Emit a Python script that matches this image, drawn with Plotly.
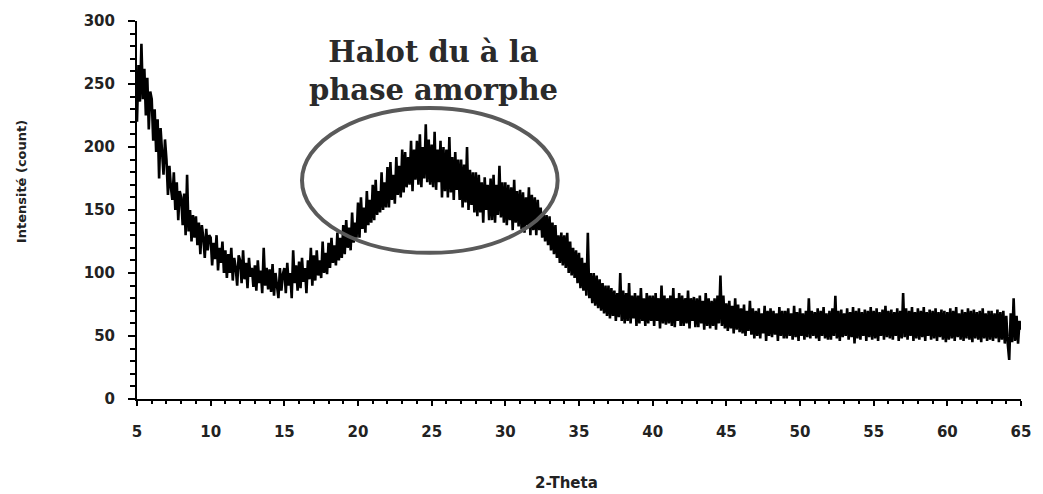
import numpy as np
import plotly.graph_objects as go

# 2-Theta sampling grid (degrees), step 0.1 from 5 to 65
two_theta = np.round(np.linspace(5, 65, 601), 1)

# Intensity (count), one row per degree
intensity = [
    220, 265, 236, 282, 238, 262, 225, 255, 214, 244,
    238, 205, 230, 196, 222, 175, 215, 200, 178, 206,
    190, 162, 185, 168, 158, 180, 150, 172, 142, 165,
    160, 138, 163, 130, 178, 133, 150, 125, 146, 128,
    145, 122, 140, 115, 138, 128, 112, 135, 118, 130,
    128, 106, 124, 111, 130, 102, 120, 108, 125, 100,
    118, 96, 115, 100, 120, 94, 112, 104, 90, 114,
    110, 92, 118, 95, 108, 88, 112, 97, 104, 89,
    106, 86, 110, 92, 102, 84, 120, 90, 104, 87,
    103, 85, 107, 82, 100, 90, 80, 104, 86, 99,
    104, 84, 108, 90, 100, 80, 118, 92, 106, 86,
    109, 88, 112, 93, 104, 84, 110, 95, 120, 90,
    114, 94, 118, 98, 110, 96, 125, 100, 116, 99,
    124, 104, 128, 108, 122, 106, 132, 110, 128, 112,
    138, 115, 142, 120, 136, 118, 148, 124, 140, 128,
    156, 128, 160, 135, 152, 132, 165, 138, 158, 140,
    170, 142, 174, 146, 165, 148, 180, 150, 172, 152,
    184, 152, 188, 158, 178, 155, 192, 162, 185, 160,
    198, 164, 196, 168, 192, 170, 205, 165, 198, 174,
    205, 170, 210, 168, 200, 175, 218, 172, 206, 170,
    202, 168, 212, 166, 198, 172, 205, 160, 200, 165,
    198, 160, 208, 164, 192, 158, 196, 166, 190, 158,
    190, 152, 186, 156, 200, 150, 182, 154, 180, 148,
    180, 145, 178, 148, 172, 140, 176, 150, 170, 142,
    175, 142, 178, 140, 170, 146, 185, 144, 172, 140,
    172, 138, 170, 142, 168, 134, 174, 140, 165, 137,
    166, 135, 164, 132, 160, 138, 168, 130, 162, 134,
    160, 130, 158, 134, 152, 128, 148, 125, 146, 122,
    145, 118, 140, 115, 138, 112, 130, 108, 132, 106,
    130, 104, 132, 100, 125, 98, 120, 96, 118, 92,
    116, 88, 112, 86, 108, 82, 132, 80, 100, 76,
    100, 74, 98, 72, 95, 70, 92, 68, 90, 66,
    90, 64, 88, 66, 86, 62, 84, 65, 100, 62,
    86, 60, 84, 62, 92, 60, 82, 64, 84, 58,
    82, 60, 88, 62, 80, 58, 84, 60, 82, 62,
    82, 58, 84, 62, 80, 56, 90, 60, 82, 59,
    80, 60, 82, 58, 88, 57, 80, 62, 84, 58,
    82, 58, 80, 60, 86, 56, 80, 62, 81, 57,
    80, 57, 82, 60, 78, 55, 84, 58, 80, 56,
    78, 58, 80, 55, 82, 60, 98, 58, 82, 56,
    76, 54, 78, 56, 74, 52, 80, 55, 75, 53,
    72, 52, 75, 50, 70, 54, 78, 51, 72, 48,
    70, 50, 72, 48, 68, 52, 74, 46, 70, 50,
    72, 49, 70, 51, 68, 46, 73, 50, 70, 48,
    70, 48, 72, 50, 68, 47, 74, 49, 69, 46,
    72, 50, 68, 47, 70, 49, 80, 48, 70, 50,
    69, 48, 72, 46, 70, 50, 73, 48, 68, 47,
    70, 47, 72, 50, 82, 48, 70, 46, 71, 49,
    68, 50, 72, 47, 69, 49, 73, 44, 70, 48,
    72, 47, 69, 50, 71, 46, 70, 49, 73, 47,
    70, 48, 72, 46, 69, 50, 71, 47, 74, 49,
    70, 48, 71, 47, 69, 50, 72, 46, 70, 48,
    84, 49, 72, 47, 70, 50, 73, 46, 69, 48,
    72, 47, 70, 49, 73, 46, 69, 50, 71, 47,
    70, 48, 72, 46, 69, 49, 71, 47, 70, 45,
    69, 47, 72, 48, 70, 46, 73, 49, 68, 47,
    71, 46, 69, 48, 72, 47, 70, 45, 71, 48,
    69, 47, 70, 45, 72, 48, 68, 46, 70, 47,
    70, 46, 68, 48, 71, 45, 69, 47, 70, 44,
    66, 44, 31, 68, 45, 80, 46, 66, 44, 62,
    55,
]

x_ticks = [5, 10, 15, 20, 25, 30, 35, 40, 45, 50, 55, 60, 65]
y_ticks = [0, 50, 100, 150, 200, 250, 300]

# Halo region (ellipse) and its caption
halo_x = [16.2, 33.55]
halo_y = [116, 231]
halo_text = "Halot du à la<br>phase amorphe"
x_title = "2-Theta"
y_title = "Intensité (count)"

fig = go.Figure()
fig.add_trace(go.Scatter(
    x=two_theta, y=intensity, mode="lines",
    line=dict(color="#000000", width=2.6),
    showlegend=False,
))

tick_font = dict(family="DejaVu Sans", size=15, color="#222222", weight="bold")

fig.update_layout(
    width=1043, height=494,
    margin=dict(l=137, r=13, t=21, b=95),
    paper_bgcolor="white", plot_bgcolor="white",
    xaxis=dict(
        range=[5, 65], tickvals=x_ticks, ticktext=[str(v) for v in x_ticks],
        showgrid=False, zeroline=False,
        showline=True, linecolor="#000000", linewidth=2,
        ticks="outside", ticklen=5, tickwidth=1.5, tickcolor="#000000",
        minor=dict(dtick=1, ticks="outside", ticklen=3, tickcolor="#000000", showgrid=False),
        tickfont=tick_font, ticklabelstandoff=13,
    ),
    yaxis=dict(
        range=[0, 300], tickvals=y_ticks, ticktext=[str(v) for v in y_ticks],
        showgrid=False, zeroline=False,
        showline=True, linecolor="#000000", linewidth=2,
        ticks="outside", ticklen=7, tickwidth=1.5, tickcolor="#000000",
        minor=dict(dtick=10, ticks="outside", ticklen=5, tickcolor="#000000", showgrid=False),
        tickfont=tick_font, ticklabelstandoff=10,
    ),
    shapes=[dict(
        type="circle", xref="x", yref="y",
        x0=halo_x[0], x1=halo_x[1], y0=halo_y[0], y1=halo_y[1],
        line=dict(color="#5a5a5a", width=4),
    )],
    annotations=[
        dict(text=halo_text, xref="paper", yref="paper", x=(437 - 137) / 893, y=(399 - 71) / 378,
             showarrow=False, xanchor="center", yanchor="middle", align="center",
             font=dict(family="DejaVu Serif", size=29, color="#2a2a2a", weight="bold")),
        dict(text=x_title, xref="paper", yref="paper", x=(571 - 137) / 893, y=-(483 - 399) / 378,
             showarrow=False, xanchor="center", yanchor="middle",
             font=dict(family="DejaVu Sans", size=15, color="#222222", weight="bold")),
        dict(text=y_title, xref="paper", yref="paper", x=-(137 - 20) / 893, y=(399 - 182) / 378,
             showarrow=False, xanchor="center", yanchor="middle", textangle=-90,
             font=dict(family="DejaVu Sans", size=13, color="#222222", weight="bold")),
    ],
)

fig.write_html("out.html")
